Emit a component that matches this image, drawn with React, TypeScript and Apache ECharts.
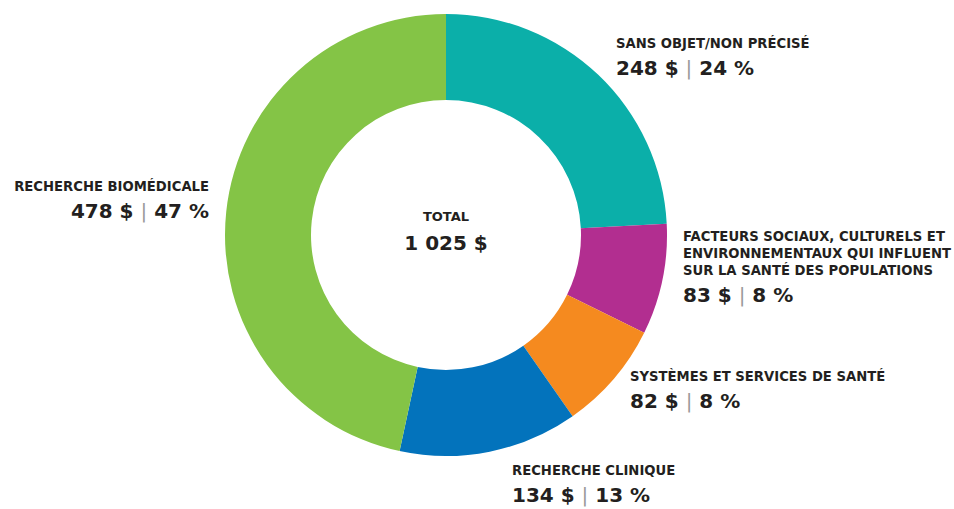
import React, { useEffect, useRef } from "react";
import * as echarts from "echarts";

const categories = [
  "SANS OBJET/NON PRÉCISÉ",
  "FACTEURS SOCIAUX, CULTURELS ET\nENVIRONNEMENTAUX QUI INFLUENT\nSUR LA SANTÉ DES POPULATIONS",
  "SYSTÈMES ET SERVICES DE SANTÉ",
  "RECHERCHE CLINIQUE",
  "RECHERCHE BIOMÉDICALE",
];
const values = [248, 83, 82, 134, 478];
const percents = [24, 8, 8, 13, 47];
const colors = ["#0BAFA9", "#B22E90", "#F58A1F", "#0373BC", "#84C446"];
const totalLabel = "TOTAL";
const totalValue = "1 025 $";

const labelPos = [
  { x: 616, y: 35, align: "left" },
  { x: 683, y: 228, align: "left" },
  { x: 630, y: 368, align: "left" },
  { x: 512, y: 462, align: "left" },
  { x: 209, y: 178, align: "right" },
];

const FONT = "'DejaVu Sans', 'Open Sans', sans-serif";
const INK = "#231F20";

export default function App() {
  const ref = useRef<HTMLDivElement>(null);
  useEffect(() => {
    if (!ref.current) return;
    const chart = echarts.init(ref.current, undefined, { renderer: "svg" });
    chart.setOption({
      animation: false,
      backgroundColor: "#ffffff",
      graphic: [
        {
          type: "text",
          x: 446,
          y: 216,
          style: {
            text: totalLabel,
            fontFamily: FONT,
            fontSize: 13,
            fontWeight: "bold",
            fill: INK,
            align: "center",
            verticalAlign: "middle",
          },
        },
        {
          type: "text",
          x: 446,
          y: 243,
          style: {
            text: totalValue,
            fontFamily: FONT,
            fontSize: 20,
            fontWeight: "bold",
            fill: INK,
            align: "center",
            verticalAlign: "middle",
          },
        },
      ],
      series: [
        {
          type: "pie",
          center: [446, 235],
          radius: [135, 221],
          startAngle: 90,
          clockwise: true,
          avoidLabelOverlap: false,
          labelLine: { show: false },
          emphasis: { disabled: true },
          data: categories.map((name, i) => ({
            name,
            value: values[i],
            itemStyle: { color: colors[i] },
            label: { align: labelPos[i].align },
          })),
          label: {
            show: true,
            position: "outside",
            fontFamily: FONT,
            color: INK,
            formatter: (p: any) => {
              const i = p.dataIndex;
              const nameLines = categories[i]
                .split("\n")
                .map((l) => `{n|${l}}`)
                .join("\n");
              return `${nameLines}\n{v|${values[i]} $ }{s||}{v| ${percents[i]} %}`;
            },
            rich: {
              n: {
                fontFamily: FONT,
                fontSize: 13.2,
                fontWeight: "bold",
                lineHeight: 17,
                color: INK,
              },
              v: {
                fontFamily: FONT,
                fontSize: 20,
                fontWeight: "bold",
                lineHeight: 31,
                color: INK,
              },
              s: {
                fontFamily: FONT,
                fontSize: 20,
                fontWeight: "normal",
                lineHeight: 31,
                color: "#9a9a9a",
              },
            },
          },
          labelLayout: (params: any) => {
            const p = labelPos[params.dataIndex];
            return { x: p.x, y: p.y, align: p.align, verticalAlign: "top" };
          },
        },
      ],
    });
    return () => chart.dispose();
  }, []);
  return (
    <div
      ref={ref}
      style={{ position: "fixed", left: 0, top: 0, width: 954, height: 509 }}
    />
  );
}
